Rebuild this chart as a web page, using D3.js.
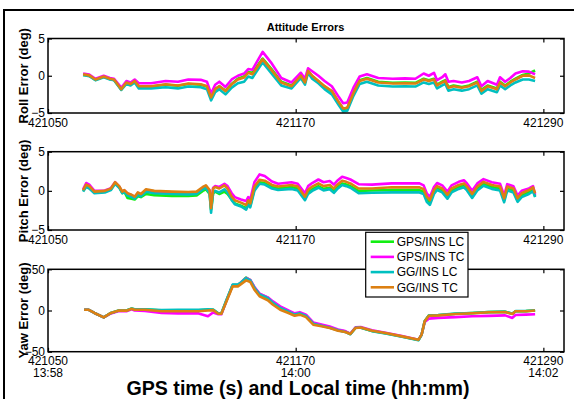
<!DOCTYPE html>
<html><head><meta charset="utf-8">
<script src="https://cdn.jsdelivr.net/npm/d3@7"></script>
<style>body{margin:0;background:#fff}svg{display:block;font-family:Arial,"Liberation Sans",sans-serif}</style>
</head><body><svg id="c" width="574" height="399"></svg>
<script>
// ---------- DATA ----------
const seriesNames = ["GPS/INS LC", "GPS/INS TC", "GG/INS LC", "GG/INS TC"];
const seriesColors = ["#12ee12", "#ff00ff", "#00c0c0", "#dc8012"];
const xTicks = [421050, 421170, 421290];
const localTimeLabels = ["13:58", "14:00", "14:02"];
const rollTicks = [-5, 0, 5];
const pitchTicks = [-5, 0, 5];
const yawTicks = [-50, 0, 50];

const rollTime = [421067,421070,421073,421077,421080,421082,421085.5,421088,421090,421092,421094,421100,421107,421113,421118,421124,421127,421129,421131,421133,421136,421139,421142,421145,421147,421149,421154,421158,421163,421168,421172.5,421174.5,421176,421178,421181,421184,421187.5,421191,421193,421195,421198,421201,421204.5,421210,421217,421223,421228,421232,421234.5,421237,421238.5,421241,421242.5,421244,421246.5,421250.5,421254,421258,421260,421263,421267.5,421269,421271.5,421274,421276.5,421280,421283,421286];
const rollGpsLC = [0.1,0.0,-0.55,-0.15,-0.45,-0.55,-1.85,-0.95,-1.15,-0.75,-1.45,-1.45,-1.2,-1.35,-1.1,-1.2,-1.45,-2.9,-1.8,-1.4,-2.0,-1.1,-0.4,-0.1,0.5,0.4,2.3,1.0,-0.8,-1.3,0.0,-0.9,0.6,-0.05,-0.75,-1.45,-2.1,-3.65,-4.45,-4.35,-2.3,-0.6,-0.3,-0.8,-0.95,-0.9,-0.95,-0.4,-0.6,-0.4,-1.2,-0.8,-0.6,-1.5,-1.3,-1.5,-1.3,-0.8,-1.9,-1.3,-1.7,-0.8,-1.3,-0.8,-0.4,0.1,0.3,0.7];
const rollGpsTC = [0.3,0.15,-0.4,0.0,-0.3,-0.4,-1.6,-0.7,-0.9,-0.5,-1.0,-1.0,-0.7,-0.8,-0.5,-0.55,-0.8,-2.4,-1.2,-0.8,-1.5,-0.5,0.0,0.3,0.9,0.8,3.2,1.8,-0.3,-0.9,0.4,-0.4,1.0,0.6,0.0,-0.7,-1.4,-2.9,-3.7,-3.6,-1.6,-0.1,0.2,-0.3,-0.4,-0.35,-0.4,0.3,0.0,0.4,-0.6,-0.2,0.2,-0.8,-0.7,-0.9,-0.7,-0.2,-1.4,-0.7,-1.2,-0.2,-0.8,-0.3,0.3,0.6,0.55,0.2];
const rollGgLC = [0.1,-0.05,-0.6,-0.2,-0.5,-0.6,-1.9,-1.1,-1.3,-0.9,-1.7,-1.7,-1.55,-1.7,-1.45,-1.55,-1.8,-3.3,-2.2,-1.8,-2.5,-1.6,-1.0,-0.8,-0.1,-0.3,1.8,0.4,-1.3,-1.7,-0.3,-1.2,0.4,-0.4,-1.0,-1.8,-2.5,-4.0,-4.8,-4.7,-2.7,-1.1,-0.8,-1.3,-1.45,-1.4,-1.45,-0.9,-1.1,-0.9,-1.7,-1.3,-1.1,-2.0,-1.8,-2.0,-1.8,-1.3,-2.4,-1.8,-2.2,-1.3,-1.8,-1.3,-0.9,-0.5,-0.5,-0.7];
const rollGgTC = [0.2,0.05,-0.5,-0.1,-0.4,-0.5,-1.8,-0.9,-1.1,-0.7,-1.4,-1.4,-1.15,-1.3,-1.05,-1.15,-1.4,-2.9,-1.8,-1.4,-2.05,-1.15,-0.5,-0.25,0.4,0.2,2.2,0.85,-0.9,-1.4,0,-0.9,0.65,0,-0.7,-1.4,-2.05,-3.6,-4.4,-4.3,-2.3,-0.7,-0.4,-0.9,-1.05,-1.0,-1.05,-0.5,-0.7,-0.5,-1.3,-0.9,-0.7,-1.6,-1.4,-1.6,-1.4,-0.9,-2.05,-1.4,-1.8,-0.9,-1.4,-0.9,-0.5,0,0.05,-0.3];

const pitchTime = [421067,421068.5,421070,421072.5,421077.5,421080.5,421082.5,421084.5,421086,421087,421088.5,421090.5,421092,421093.5,421095,421097.5,421101.5,421110,421118,421122,421125,421126.5,421128.3,421129,421130,421131,421133,421135.5,421137,421139,421140.5,421143.5,421146,421147,421148,421150,421152.5,421155,421158.5,421161.5,421168,421171,421174.5,421176,421178,421181,421183.5,421186.5,421188.5,421190,421192.5,421194.5,421196.5,421200.5,421207,421216.5,421230,421232,421233.5,421235,421237,421238.5,421241,421243.5,421245.5,421249,421251.5,421253,421255.5,421258,421261,421265,421269,421271,421272.5,421275.5,421277.5,421279.5,421283,421285,421286];
const pitchGpsLC = [0.0,0.6,0.45,-0.2,-0.1,0.2,1.0,0.5,-0.3,-0.1,-0.9,-1.0,-1.1,-0.7,-0.8,-0.4,-0.55,-0.65,-0.65,-0.6,0.0,0.2,-0.4,-2.4,-0.3,-0.1,-0.4,-0.1,-0.4,-1.1,-1.6,-1.9,-2.2,-1.6,-1.9,0.2,1.1,1.0,0.5,0.3,0.5,0.3,-1.0,-0.2,0.2,0.6,0.25,0.4,0.0,0.4,0.95,0.8,0.6,0.0,0.05,0.1,0.1,-0.15,-1.1,-1.5,-0.15,0.35,0.05,-0.75,0.05,0.5,0.7,0.3,-0.65,0.3,0.9,0.5,0.3,-1.2,0.3,0.05,-1.2,-0.55,-0.15,0.1,-0.7];
const pitchGpsTC = [0.2,1.0,0.8,0.0,0.05,0.35,1.1,0.55,-0.15,0.05,-0.35,-0.55,-0.8,-0.3,-0.45,0.1,-0.1,-0.2,-0.3,-0.2,0.4,0.6,0.0,-1.9,0.4,0.6,0.5,0.9,0.6,-0.3,-0.8,-1.1,-1.3,-0.8,-1.1,1.1,2.1,1.9,1.2,0.9,1.1,0.9,-0.3,0.6,1.0,1.45,1.1,1.25,0.8,1.25,1.8,1.65,1.45,0.85,0.8,0.95,0.95,0.7,-0.3,-0.8,0.5,1.0,0.7,-0.1,0.7,1.15,1.35,0.95,0.0,0.95,1.5,1.1,0.9,-0.6,0.85,0.6,-0.6,0.0,0.3,0.6,-0.5];
const pitchGgLC = [-0.1,0.5,0.3,-0.3,-0.2,0.1,0.9,0.4,-0.3,-0.1,-0.6,-0.8,-1.0,-0.5,-0.7,-0.1,-0.3,-0.4,-0.45,-0.4,0.2,0.4,-0.3,-2.8,-0.2,0.0,-0.2,0.2,-0.2,-1.2,-1.7,-2.0,-2.4,-1.8,-2.1,0.0,0.9,0.8,0.3,0.1,0.25,0.05,-1.2,-0.4,0.0,0.4,0.05,0.2,-0.25,0.2,0.75,0.6,0.4,-0.3,-0.25,-0.2,-0.2,-0.4,-1.4,-1.8,-0.4,0.1,-0.2,-1.0,-0.2,0.25,0.45,0.05,-0.9,0.05,0.65,0.25,0.05,-1.45,0.05,-0.2,-1.4,-0.8,-0.4,-0.05,-0.8];
const pitchGgTC = [0.1,0.8,0.6,-0.1,0.0,0.3,1.1,0.6,-0.1,0.1,-0.3,-0.5,-0.75,-0.2,-0.4,0.2,0.0,-0.1,-0.15,-0.1,0.5,0.7,0.1,-2.2,0.3,0.5,0.3,0.7,0.3,-0.75,-1.2,-1.5,-1.8,-1.2,-1.6,0.55,1.4,1.3,0.75,0.55,0.75,0.55,-0.75,0.1,0.55,0.95,0.6,0.75,0.3,0.75,1.3,1.15,0.95,0.3,0.3,0.45,0.45,0.2,-0.75,-1.2,0.1,0.6,0.3,-0.5,0.3,0.75,0.95,0.55,-0.4,0.55,1.15,0.75,0.55,-0.95,0.55,0.3,-0.95,-0.3,0.1,0.45,-0.3];

const yawTime = [421067.5,421069.5,421072.5,421077,421080.5,421084,421088,421090.5,421092,421097,421105,421113,421123,421127.5,421130,421132.5,421134,421136.5,421139.5,421142,421143.5,421146,421148,421150,421152.5,421156.5,421159,421162.5,421166.5,421169.5,421172,421175,421178.5,421182.5,421186.5,421190.5,421194,421196.5,421199,421201.5,421207,421213.5,421221.5,421229.5,421231,421232.5,421234.5,421239,421247.5,421255.5,421263.5,421271.5,421275,421276.5,421281.5,421286];
const yawGpsLC = [1.0,1.0,-3.0,-8.3,-3.0,-0.2,0.0,2.3,1.2,1.4,0.0,0.2,0.3,1.0,1.0,-3.7,-3.7,12.5,31,31,34,40,37,28,20,15.5,10,4,-1,-4.5,-3,-6,-15.5,-18,-20.5,-23.8,-25.5,-28.5,-21,-20.5,-24.8,-27.5,-31.6,-35.8,-29.5,-13.2,-6.2,-5.7,-4,-3.2,-2,-1.6,-4,-1,-0.8,0];
const yawGpsTC = [1.0,1.0,-3.0,-8.3,-3.5,-0.8,-1.0,1.5,0.0,-0.5,-3.0,-3.5,-3.5,-7.0,-2.5,-4.5,-4.5,12,31,31,34,39.4,37,28.5,20.5,16,11,5,0,-3.5,-2,-5,-14.5,-17,-19.5,-23,-25,-28,-20.5,-20,-24,-27,-31,-35.4,-29.5,-14,-9.9,-9,-8,-7,-6.5,-5.9,-9,-5.5,-5,-4.6];
const yawGgLC = [1.0,1.0,-3.0,-8.3,-3.0,-0.2,0.0,2.4,1.4,1.6,0.5,0.8,1.0,1.5,1.3,-3.5,-3.5,13,31.5,31.5,34,39,36.5,27.5,19.5,15,9.5,3,-1.5,-5,-3.5,-6.5,-16,-18.5,-21,-24,-26,-28.8,-21,-20.8,-25,-27.8,-31.8,-36,-29.5,-13,-6,-5.5,-3.8,-3,-1.8,-1.4,-3.8,-0.8,-0.6,0.3];
const yawGgTC = [1.0,1.0,-3.0,-8.3,-3.0,-0.2,-0.2,2.2,1.0,1.0,-1.0,-1.0,-1.0,0.0,0.4,-3.9,-3.9,11.2,29.3,29.3,32,36.6,34.6,25.3,17.2,12.4,7.0,1.0,-3.0,-6.3,-5.0,-8.0,-17.2,-19.2,-21.2,-24.5,-26,-28.5,-21.2,-20.6,-24.5,-27.3,-31.4,-35.4,-29.3,-13.2,-6.3,-5.9,-4.2,-3.4,-2.2,-1.8,-4.2,-1.0,-1.0,0.0];

// ---------- CHART ----------
const svg = d3.select("#c");
const x = d3.scaleLinear().domain([421050, 421300]).range([48, 564]);

const panels = [
  {top: 38.5, bottom: 113, domain: [-5, 5], ticks: rollTicks, label: "Roll Error (deg)", time: rollTime, data: [rollGpsLC, rollGpsTC, rollGgLC, rollGgTC], local: false},
  {top: 151.7, bottom: 230, domain: [-5, 5], ticks: pitchTicks, label: "Pitch Error (deg)", time: pitchTime, data: [pitchGpsLC, pitchGpsTC, pitchGgLC, pitchGgTC], local: false},
  {top: 269.3, bottom: 351.7, domain: [-50, 50], ticks: yawTicks, label: "Yaw Error (deg)", time: yawTime, data: [yawGpsLC, yawGpsTC, yawGgLC, yawGgTC], local: true}
];

// outer frame
svg.append("rect").attr("x", 4).attr("y", 10).attr("width", 620).attr("height", 420)
  .attr("fill", "none").attr("stroke", "#000").attr("stroke-width", 2);

// title
svg.append("text").attr("x", 305.5).attr("y", 30.5).attr("text-anchor", "middle")
  .attr("font-size", 11).attr("font-weight", "bold").text("Attitude Errors");

panels.forEach((p, i) => {
  const y = d3.scaleLinear().domain(p.domain).range([p.bottom, p.top]);
  const g = svg.append("g");
  const clipId = "clip" + i;
  svg.append("clipPath").attr("id", clipId).append("rect")
    .attr("x", x.range()[0]).attr("y", p.top).attr("width", x.range()[1] - x.range()[0]).attr("height", p.bottom - p.top);

  // lines
  const line = d3.line().x((d, k) => x(p.time[k])).y(d => y(d));
  p.data.forEach((vals, s) => {
    g.append("path").datum(vals).attr("d", line).attr("clip-path", `url(#${clipId})`)
      .attr("fill", "none").attr("stroke", seriesColors[s]).attr("stroke-width", 2.6)
      .attr("stroke-linejoin", "round");
  });

  // axes: ticks inward on all sides
  const styleAxis = sel => { sel.select(".domain").remove(); sel.selectAll("line").attr("stroke", "#000").attr("stroke-width", 1.2); };
  g.append("g").attr("transform", `translate(0,${p.bottom})`)
    .call(d3.axisBottom(x).tickValues(xTicks).tickSizeInner(-4).tickSizeOuter(0).tickFormat("")).call(styleAxis);
  g.append("g").attr("transform", `translate(0,${p.top})`)
    .call(d3.axisTop(x).tickValues(xTicks).tickSizeInner(-4).tickSizeOuter(0).tickFormat("")).call(styleAxis);
  g.append("g").attr("transform", `translate(${x.range()[0]},0)`)
    .call(d3.axisLeft(y).tickValues(p.ticks).tickSizeInner(-4).tickSizeOuter(0).tickPadding(3))
    .call(styleAxis)
    .call(a => a.selectAll("text").attr("font-size", 12).attr("fill", "#000").attr("font-family", "Arial, Liberation Sans, sans-serif"));
  g.append("g").attr("transform", `translate(${x.range()[1]},0)`)
    .call(d3.axisRight(y).tickValues(p.ticks).tickSizeInner(-4).tickSizeOuter(0).tickFormat("")).call(styleAxis);

  // box
  g.append("rect").attr("x", x.range()[0]).attr("y", p.top)
    .attr("width", x.range()[1] - x.range()[0]).attr("height", p.bottom - p.top)
    .attr("fill", "none").attr("stroke", "#000").attr("stroke-width", 1.5);

  // x tick labels
  xTicks.forEach((t, k) => {
    const tx = g.append("text").attr("x", x(t)).attr("y", p.bottom + 13.5)
      .attr("text-anchor", "middle").attr("font-size", 12).text(t);
    if (p.local) {
      g.append("text").attr("x", x(t)).attr("y", p.bottom + 25)
        .attr("text-anchor", "middle").attr("font-size", 12).text(localTimeLabels[k]);
    }
  });

  // y label
  g.append("text").attr("transform", `translate(28,${(p.top + p.bottom) / 2}) rotate(-90)`)
    .attr("text-anchor", "middle").attr("font-size", 13).attr("font-weight", "bold").text(p.label);
});

// x axis label
svg.append("text").attr("x", 298).attr("y", 395).attr("text-anchor", "middle")
  .attr("font-size", 19.6).attr("font-weight", "bold").text("GPS time (s) and Local time (hh:mm)");

// legend
const lg = svg.append("g");
lg.append("rect").attr("x", 365.7).attr("y", 232.3).attr("width", 102.3).attr("height", 64.7)
  .attr("fill", "#fff").attr("stroke", "#000").attr("stroke-width", 1.2);
seriesNames.forEach((n, s) => {
  const cy = 241.7 + s * 15.2;
  lg.append("line").attr("x1", 370.7).attr("x2", 394).attr("y1", cy).attr("y2", cy)
    .attr("stroke", seriesColors[s]).attr("stroke-width", 2.6);
  lg.append("text").attr("x", 396.7).attr("y", cy + 4.3).attr("font-size", 12).text(n);
});
</script></body></html>
